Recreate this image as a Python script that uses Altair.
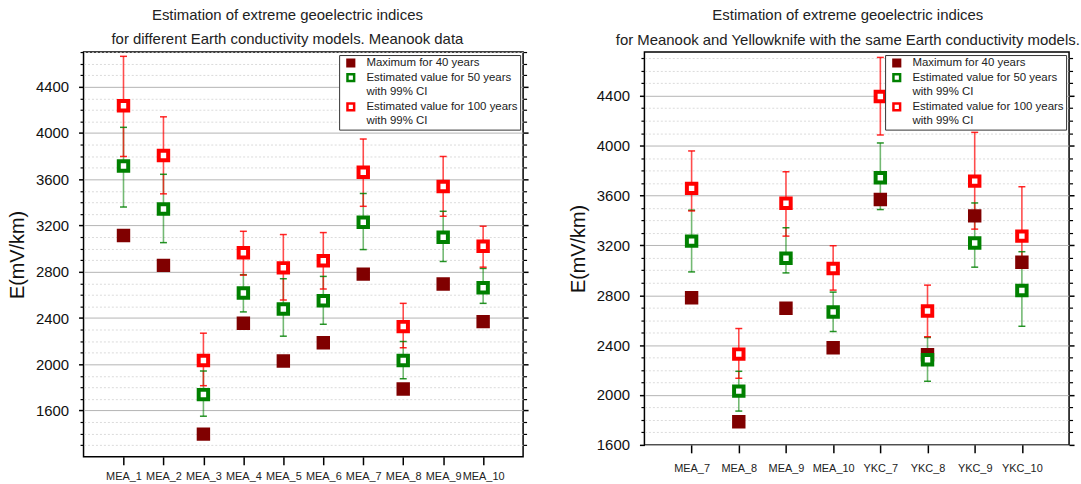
import altair as alt
import pandas as pd

FONT = "Liberation Sans"
NB = "\u00a0"

# legend rows (the 2nd-line entries are label-only rows with invisible symbols)
LEGEND_ROWS = [
    "Maximum for 40 years",
    "Estimated value for 50 years",
    "with 99% CI",
    "Estimated value for 100 years",
    NB + "with 99% CI",
]
SERIES_MAX = LEGEND_ROWS[0]
SERIES_50 = LEGEND_ROWS[1]
SERIES_100 = LEGEND_ROWS[3]
FILL_RANGE = ["#800000", "#ffffff", "transparent", "#ffffff", "transparent"]
STROKE_RANGE = ["#800000", "#008000", "transparent", "#ff0000", "transparent"]

# ---- left panel (Meanook, different conductivity models) ----
left_cats = ["MEA_1", "MEA_2", "MEA_3", "MEA_4", "MEA_5", "MEA_6", "MEA_7", "MEA_8", "MEA_9", "MEA_10"]
left_max40 = [3114, 2855, 1396, 2355, 2028, 2186, 2780, 1786, 2694, 2369]
left_e50 = [3714, 3343, 1738, 2616, 2478, 2550, 3228, 2033, 3098, 2662]
left_e50_lo = [3360, 3052, 1551, 2453, 2243, 2346, 2992, 1875, 2889, 2527]
left_e50_hi = [4049, 3643, 1942, 2775, 2740, 2760, 3477, 2197, 3323, 2829]
left_e100 = [4235, 3806, 2033, 2964, 2834, 2895, 3660, 2326, 3537, 3021]
left_e100_lo = [3797, 3474, 1815, 2771, 2556, 2651, 3366, 2143, 3280, 2840]
left_e100_hi = [4663, 4140, 2269, 3150, 3122, 3139, 3948, 2527, 3797, 3194]

# ---- right panel (Meanook and Yellowknife) ----
right_cats = ["MEA_7", "MEA_8", "MEA_9", "MEA_10", "YKC_7", "YKC_8", "YKC_9", "YKC_10"]
right_max40 = [2780, 1786, 2695, 2379, 3567, 2323, 3436, 3064]
right_e50 = [3234, 2031, 3096, 2666, 3742, 2283, 3219, 2838]
right_e50_lo = [2987, 1871, 2979, 2509, 3487, 2110, 3025, 2551]
right_e50_hi = [3482, 2190, 3341, 2825, 4021, 2461, 3540, 3149]
right_e100 = [3657, 2328, 3537, 3014, 4393, 2674, 3715, 3274]
right_e100_lo = [3476, 2134, 3274, 2841, 4085, 2467, 3330, 3105]
right_e100_hi = [3957, 2533, 3790, 3197, 4707, 2881, 4106, 3670]

major_ticks = [1600, 2000, 2400, 2800, 3200, 3600, 4000, 4400]
left_minor = [v for v in range(1300, 4701, 100) if v % 400 != 0]
right_minor = [v for v in range(1700, 4701, 100) if v % 400 != 0]


def make_df(cats, mx, e50, e50lo, e50hi, e100, e100lo, e100hi):
    rows = []
    for i, c in enumerate(cats):
        rows.append(dict(cat=c, series=SERIES_MAX, grp=0, value=mx[i], lo=None, hi=None))
    for i, c in enumerate(cats):
        rows.append(dict(cat=c, series=SERIES_50, grp=1, value=e50[i], lo=e50lo[i], hi=e50hi[i]))
    for i, c in enumerate(cats):
        rows.append(dict(cat=c, series=SERIES_100, grp=2, value=e100[i], lo=e100lo[i], hi=e100hi[i]))
    return pd.DataFrame(rows)


def panel(df, cats, ydom, minors, w, h, title, dx, xpad):
    xenc = alt.X(
        "cat:N",
        sort=cats,
        scale=alt.Scale(type="point", domain=cats, padding=1),
        axis=alt.Axis(title=None, labelAngle=0, labelFont=FONT, labelFontSize=11,
                      labelColor="#222", tickSize=8, tickWidth=1.5, tickColor="black",
                      domain=False, grid=False, labelPadding=xpad),
    )
    ysc = alt.Scale(domain=ydom, nice=False, zero=False)
    ax_major_left = alt.Axis(values=major_ticks, orient="left", format="d", title="E(mV/km)",
                             titleFont=FONT, titleFontSize=20, titleFontWeight="normal",
                             titleColor="#111", titlePadding=8,
                             labelFont=FONT, labelFontSize=15, labelColor="#111", labelPadding=10,
                             tickSize=5, tickWidth=1.5, tickColor="black",
                             grid=True, gridColor="#b4b4b4", gridWidth=1, domain=False)
    ax_minor_left = alt.Axis(values=minors, orient="left", title=None, labels=False,
                             tickSize=3.5, tickWidth=1.2, tickColor="black",
                             grid=True, gridColor="#d2d2d2", gridDash=[2, 2], gridWidth=0.8,
                             domain=False)
    ax_major_right = alt.Axis(values=major_ticks, orient="right", title=None, labels=False,
                              tickSize=5, tickWidth=1.5, tickColor="black", grid=False, domain=False)
    ax_minor_right = alt.Axis(values=minors, orient="right", title=None, labels=False,
                              tickSize=3.5, tickWidth=1.2, tickColor="black", grid=False, domain=False)

    base = alt.Chart(df)
    g = base.transform_filter(alt.datum.grp == 1)
    r = base.transform_filter(alt.datum.grp == 2)

    g_rule = g.mark_rule(color="#008000", strokeWidth=1.6, opacity=0.55).encode(
        x=xenc, y=alt.Y("lo:Q", scale=ysc, axis=ax_major_left), y2="hi:Q")
    r_rule = r.mark_rule(color="#ff0000", strokeWidth=1.6, opacity=0.7).encode(
        x=xenc, y=alt.Y("lo:Q", scale=ysc, axis=ax_minor_left), y2="hi:Q")
    g_lo = g.mark_tick(color="#008000", size=7, thickness=1.5, opacity=0.85).encode(
        x=xenc, y=alt.Y("lo:Q", scale=ysc, axis=ax_major_right))
    g_hi = g.mark_tick(color="#008000", size=7, thickness=1.5, opacity=0.85).encode(
        x=xenc, y=alt.Y("hi:Q", scale=ysc, axis=ax_minor_right))
    r_lo = r.mark_tick(color="#ff0000", size=7, thickness=1.5, opacity=0.85).encode(
        x=xenc, y=alt.Y("lo:Q", scale=ysc, axis=None))
    r_hi = r.mark_tick(color="#ff0000", size=7, thickness=1.5, opacity=0.85).encode(
        x=xenc, y=alt.Y("hi:Q", scale=ysc, axis=None))

    leg = alt.Legend(title=None, orient="top-right", offset=3, padding=2,
                     strokeColor="#333", fillColor="white",
                     labelFont=FONT, labelFontSize=11.5, labelColor="#222", labelLimit=300,
                     symbolType="square", symbolSize=45, symbolStrokeWidth=2.5,
                     symbolOffset=4, clipHeight=12, rowPadding=2.7, labelOffset=10,
                     values=LEGEND_ROWS)
    pts = base.mark_point(shape="square", filled=True, size=90, strokeWidth=4, opacity=1).encode(
        x=xenc,
        y=alt.Y("value:Q", scale=ysc, axis=None),
        fill=alt.Fill("series:N", scale=alt.Scale(domain=LEGEND_ROWS, range=FILL_RANGE), legend=leg),
        stroke=alt.Stroke("series:N", scale=alt.Scale(domain=LEGEND_ROWS, range=STROKE_RANGE), legend=leg),
    )

    return alt.layer(g_rule, r_rule, g_lo, g_hi, r_lo, r_hi, pts).resolve_axis(y="independent").properties(
        width=w, height=h,
        title=alt.TitleParams(text=title, font=FONT, fontSize=15, fontWeight="normal",
                              color="#222", lineHeight=25, anchor="middle", frame="group",
                              offset=4, dx=dx),
    )


left_df = make_df(left_cats, left_max40, left_e50, left_e50_lo, left_e50_hi,
                  left_e100, left_e100_lo, left_e100_hi)
right_df = make_df(right_cats, right_max40, right_e50, right_e50_lo, right_e50_hi,
                   right_e100, right_e100_lo, right_e100_hi)

left = panel(left_df, left_cats, [1200, 4700], left_minor, 442, 407,
             ["Estimation of extreme geoelectric indices",
              "for different Earth conductivity models. Meanook data"], -16, 6)
right = panel(right_df, right_cats, [1600, 4750], right_minor, 427, 395,
              ["Estimation of  extreme geoelectric  indices",
               "for Meanook and Yellowknife with the same Earth conductivity models."], -9, 10)

chart = alt.hconcat(left, right, spacing=37).resolve_scale(
    fill="independent", stroke="independent", x="independent", y="independent"
).resolve_legend(fill="independent", stroke="independent").properties(
    padding={"left": 6, "top": 5, "right": 0, "bottom": 0}, background="white"
).configure_view(stroke="black", strokeWidth=1.5)

chart.save("out.html", embed_options={"renderer": "svg", "actions": False})
